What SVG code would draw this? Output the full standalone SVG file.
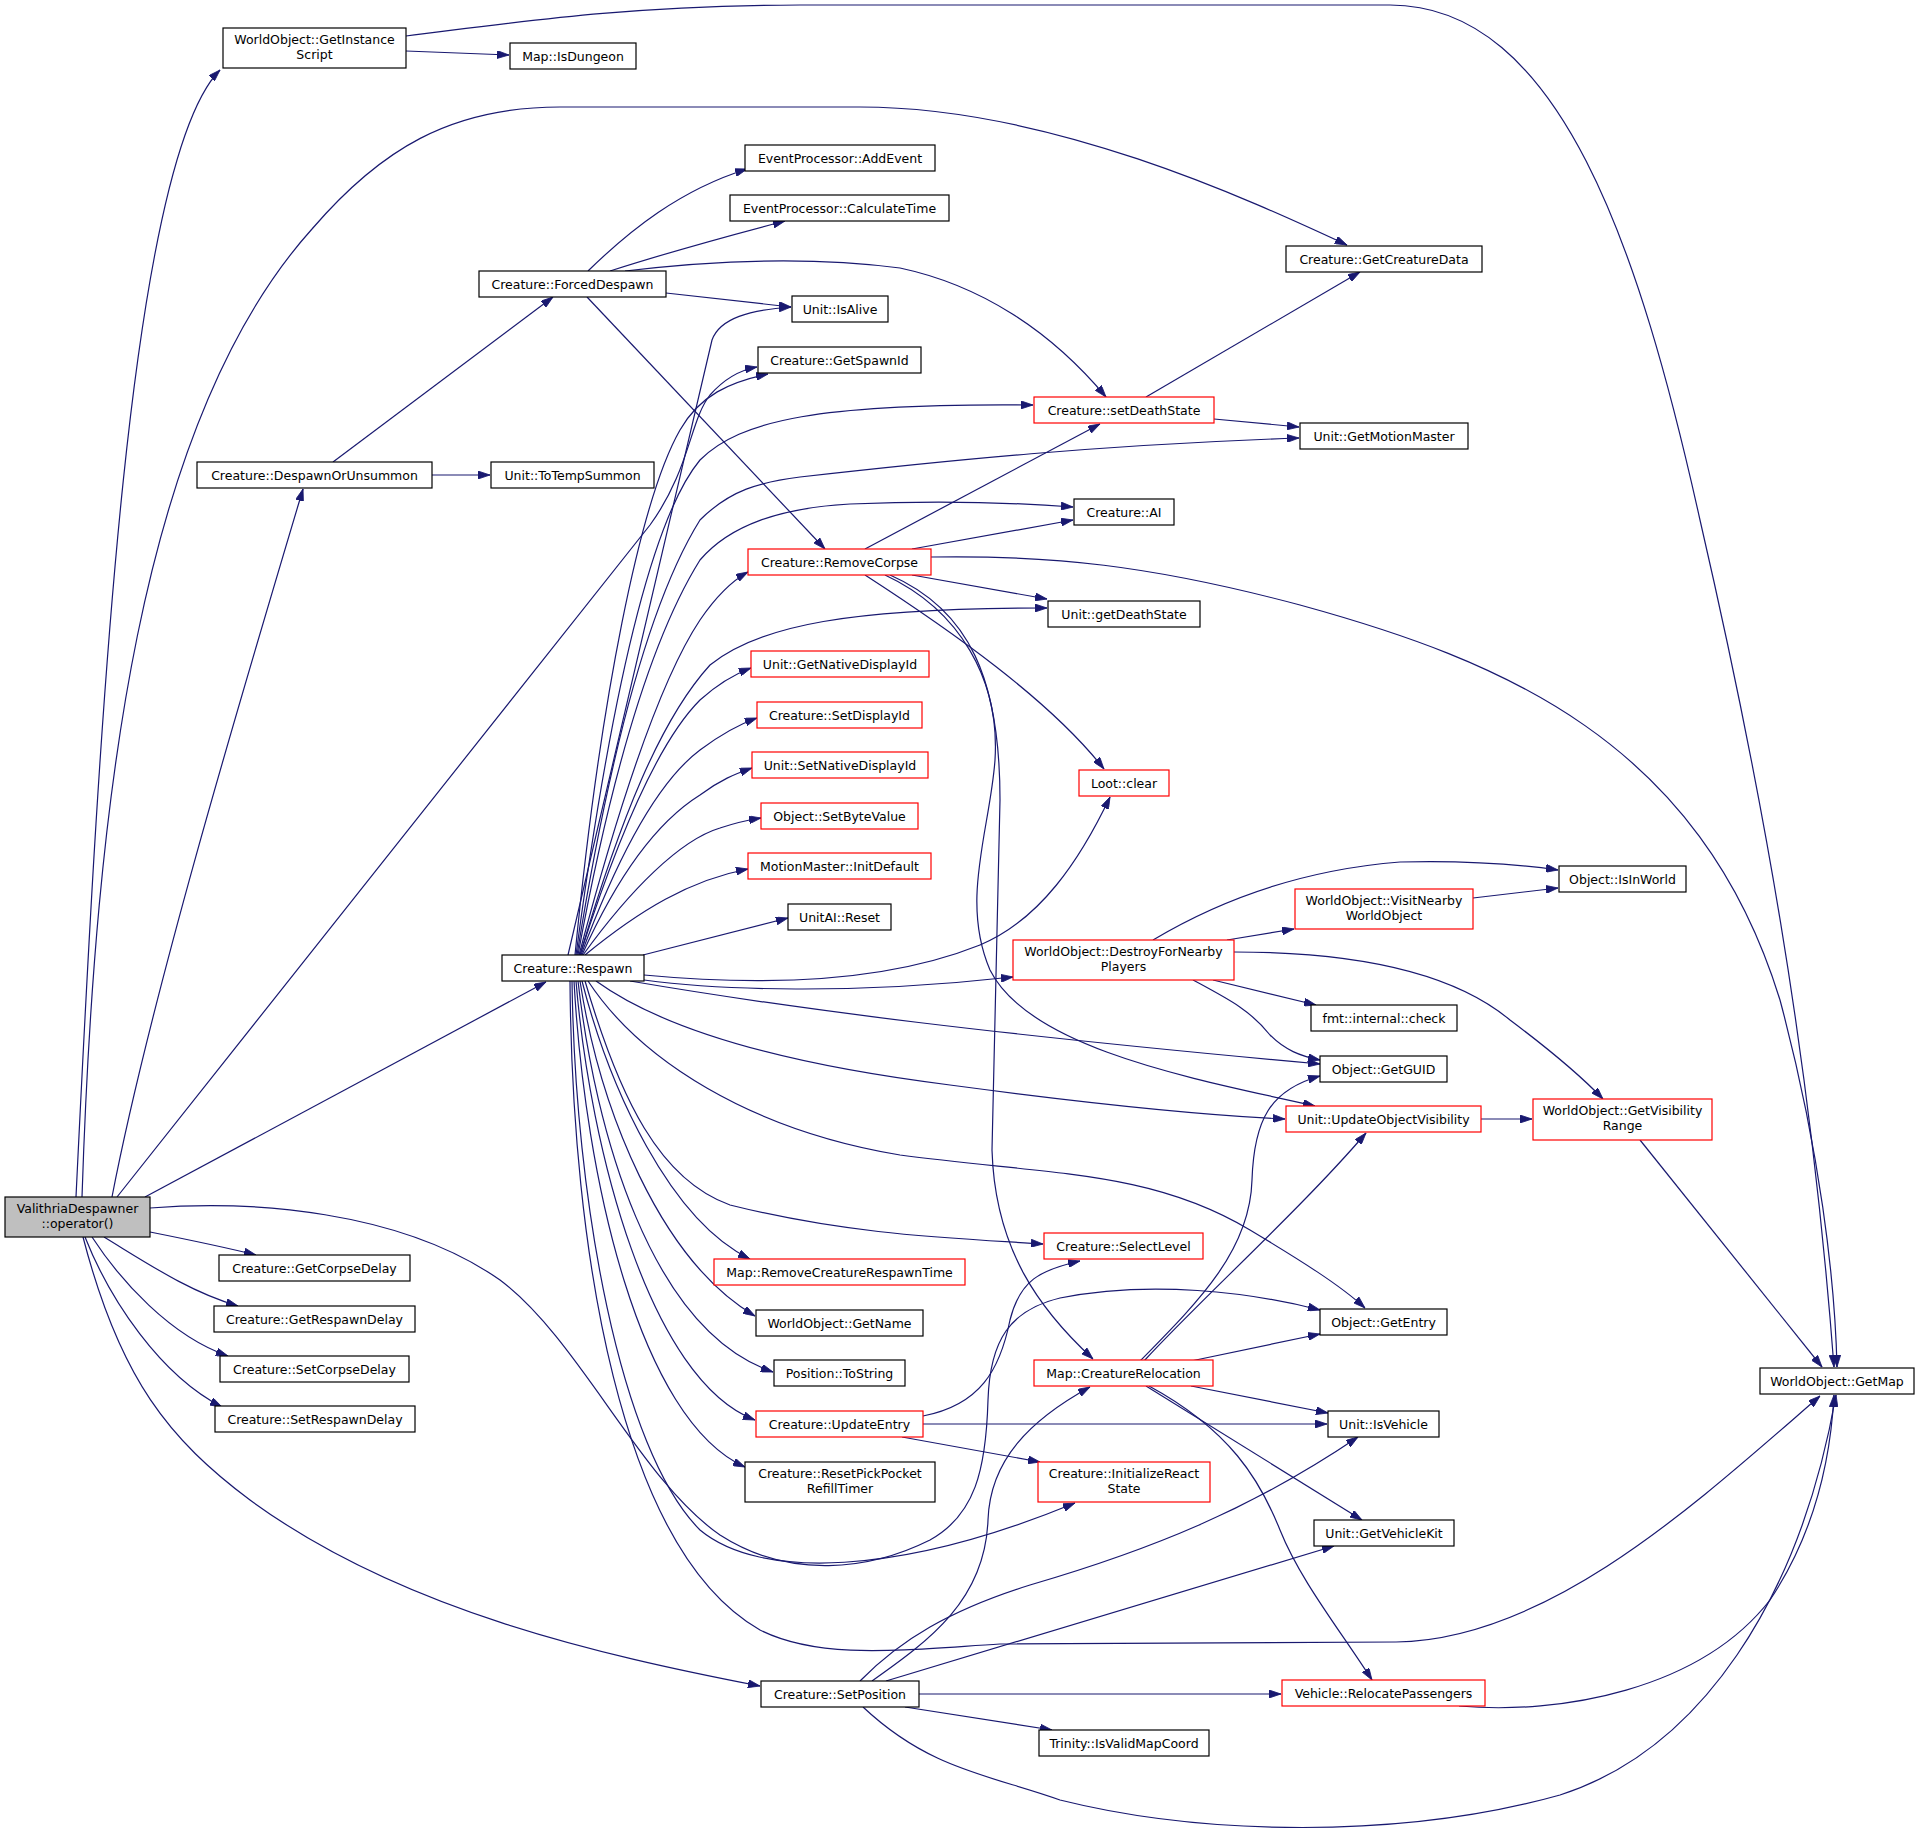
<svg xmlns="http://www.w3.org/2000/svg" width="1920" height="1844" viewBox="0 0 1920 1844">
<style>
.n rect{fill:#fff;stroke:#000;stroke-width:1.2}
.r rect{stroke:#ff0000}
.root rect{fill:#bfbfbf}
text{font-family:"DejaVu Sans","Liberation Sans",sans-serif;font-size:12.5px;text-anchor:middle;fill:#000}
.e{fill:none;stroke:#191970;stroke-width:1.2;marker-end:url(#a)}
</style>
<defs>
<marker id="a" viewBox="0 0 12 8" refX="12" refY="4" markerWidth="12" markerHeight="8" markerUnits="userSpaceOnUse" orient="auto">
<path d="M0,0 L12,4 L0,8 z" fill="#191970" stroke="#191970" stroke-width="0.8"/>
</marker>
</defs>
<rect width="1920" height="1844" fill="#fff"/>
<g id="edges">
<path class="e" d="M 76,1197 C 100,700 130,160 220,70"/>
<path class="e" d="M 82,1197 C 95,800 140,420 312,229 C 380,150 450,107 560,107 L 860,107 C 1050,107 1250,200 1347,245"/>
<path class="e" d="M 112,1197 C 150,1000 240,700 303,489"/>
<path class="e" d="M 117,1197 L 650,525 C 690,470 690,420 710,395 C 725,378 740,370 757,367"/>
<path class="e" d="M 145,1197 L 546,982"/>
<path class="e" d="M 150,1232 C 180,1238 220,1246 256,1255"/>
<path class="e" d="M 104,1237 C 150,1265 190,1292 238,1306"/>
<path class="e" d="M 92,1237 C 120,1280 170,1336 228,1356"/>
<path class="e" d="M 85,1237 C 110,1300 160,1375 222,1407"/>
<path class="e" d="M 83,1237 C 120,1380 170,1440 250,1500 C 400,1610 600,1655 760,1686"/>
<path class="e" d="M 150,1208 C 250,1200 400,1210 500,1280 C 580,1340 640,1480 720,1535 C 790,1580 870,1570 930,1540 C 975,1515 986,1470 988,1400 C 990,1340 1010,1310 1060,1298 C 1150,1280 1250,1292 1320,1310"/>
<path class="e" d="M 406,51 L 509,55"/>
<path class="e" d="M 406,36 C 520,22 620,6 800,5 L 1390,5 C 1560,5 1640,250 1700,520 C 1760,780 1810,1050 1834,1367"/>
<path class="e" d="M 588,271 C 630,230 680,190 747,169"/>
<path class="e" d="M 610,271 C 660,255 720,238 785,221"/>
<path class="e" d="M 625,271 C 700,262 800,255 900,268 C 980,285 1050,330 1106,397"/>
<path class="e" d="M 666,293 L 791,307"/>
<path class="e" d="M 587,297 L 825,549"/>
<path class="e" d="M 333,462 L 553,297"/>
<path class="e" d="M 432,475 L 490,475"/>
<path class="e" d="M 568,955 L 712,340 C 720,318 750,310 791,307"/>
<path class="e" d="M 575,955 C 600,700 640,500 680,430 C 700,395 730,382 768,374"/>
<path class="e" d="M 576,955 C 610,700 650,520 700,460 C 740,420 820,403 1033,405"/>
<path class="e" d="M 577,955 C 610,750 650,600 700,520 C 730,490 760,482 800,477 C 950,460 1100,445 1299,438"/>
<path class="e" d="M 578,955 C 610,780 650,640 700,560 C 730,525 780,508 850,504 C 950,500 1020,503 1073,507"/>
<path class="e" d="M 579,955 C 620,800 660,680 700,620 C 715,598 730,582 748,572"/>
<path class="e" d="M 580,955 C 620,820 660,720 710,665 C 760,625 850,608 1047,608"/>
<path class="e" d="M 580,955 C 620,830 660,740 700,700 C 720,682 735,674 751,668"/>
<path class="e" d="M 581,955 C 620,850 660,780 700,750 C 720,735 740,724 757,718"/>
<path class="e" d="M 582,955 C 620,870 660,820 700,795 C 720,780 735,774 752,768"/>
<path class="e" d="M 583,955 C 630,890 680,840 720,828 C 735,823 748,820 761,818"/>
<path class="e" d="M 585,955 C 640,910 690,880 748,869"/>
<path class="e" d="M 643,955 L 788,918"/>
<path class="e" d="M 644,975 C 750,985 880,985 980,945 C 1040,920 1080,860 1110,797"/>
<path class="e" d="M 644,980 C 720,990 850,995 1013,977"/>
<path class="e" d="M 630,981 C 800,1010 1000,1035 1320,1064"/>
<path class="e" d="M 596,981 C 650,1020 750,1060 950,1085 C 1100,1105 1200,1115 1285,1119"/>
<path class="e" d="M 588,981 C 640,1060 750,1130 900,1155 C 1050,1175 1150,1170 1250,1230 C 1300,1260 1340,1285 1365,1308"/>
<path class="e" d="M 585,981 C 620,1100 660,1180 730,1205 C 850,1235 950,1238 1043,1244"/>
<path class="e" d="M 582,981 C 610,1090 670,1220 750,1259"/>
<path class="e" d="M 580,981 C 600,1110 660,1260 755,1316"/>
<path class="e" d="M 578,981 C 595,1130 650,1330 773,1372"/>
<path class="e" d="M 576,981 C 590,1150 650,1380 755,1420"/>
<path class="e" d="M 574,981 C 585,1180 640,1420 745,1467"/>
<path class="e" d="M 572,981 C 575,1200 620,1450 700,1530 C 760,1580 900,1575 1075,1503"/>
<path class="e" d="M 570,981 C 572,1250 620,1550 760,1630 C 820,1660 900,1650 1000,1644 L 1396,1642 C 1550,1640 1700,1500 1820,1396"/>
<path class="e" d="M 865,549 L 1100,424"/>
<path class="e" d="M 912,549 L 1073,520"/>
<path class="e" d="M 931,557 C 1050,555 1150,565 1300,605 C 1500,660 1700,740 1780,1000 C 1820,1150 1835,1280 1837,1367"/>
<path class="e" d="M 912,575 L 1047,599"/>
<path class="e" d="M 865,575 C 950,630 1050,700 1104,769"/>
<path class="e" d="M 885,575 C 960,610 1000,680 995,760 C 990,830 960,900 990,970 C 1030,1050 1200,1080 1315,1106"/>
<path class="e" d="M 890,575 C 970,610 1000,680 1000,800 L 992,1150 C 995,1250 1040,1310 1093,1359"/>
<path class="e" d="M 1146,397 L 1360,272"/>
<path class="e" d="M 1214,419 L 1299,427"/>
<path class="e" d="M 1153,940 C 1220,900 1300,870 1400,862 C 1480,860 1530,866 1558,870"/>
<path class="e" d="M 1227,940 L 1294,929"/>
<path class="e" d="M 1234,952 C 1350,952 1450,970 1510,1020 C 1550,1050 1580,1075 1603,1099"/>
<path class="e" d="M 1213,980 L 1316,1005"/>
<path class="e" d="M 1193,980 C 1230,1000 1250,1010 1270,1035 C 1285,1050 1300,1056 1320,1060"/>
<path class="e" d="M 1473,898 L 1558,888"/>
<path class="e" d="M 1481,1119 L 1532,1119"/>
<path class="e" d="M 1640,1140 L 1822,1367"/>
<path class="e" d="M 923,1416 C 980,1405 1000,1370 1010,1320 C 1020,1280 1040,1270 1080,1261"/>
<path class="e" d="M 923,1424 L 1327,1424"/>
<path class="e" d="M 902,1437 L 1040,1462"/>
<path class="e" d="M 1191,1361 L 1320,1334"/>
<path class="e" d="M 1140,1361 C 1200,1300 1250,1250 1252,1180 C 1254,1120 1270,1090 1320,1076"/>
<path class="e" d="M 1144,1361 C 1200,1300 1300,1210 1366,1133"/>
<path class="e" d="M 1191,1386 L 1328,1413"/>
<path class="e" d="M 1146,1386 L 1362,1520"/>
<path class="e" d="M 1149,1386 C 1230,1430 1260,1480 1280,1530 C 1300,1580 1340,1630 1372,1680"/>
<path class="e" d="M 872,1681 C 930,1640 985,1600 988,1520 C 990,1460 1030,1420 1090,1387"/>
<path class="e" d="M 860,1681 C 900,1640 950,1610 1030,1585 C 1150,1550 1250,1510 1358,1437"/>
<path class="e" d="M 886,1681 L 1334,1546"/>
<path class="e" d="M 919,1694 L 1281,1694"/>
<path class="e" d="M 905,1707 L 1052,1730"/>
<path class="e" d="M 863,1707 C 930,1770 990,1775 1060,1800 C 1200,1835 1400,1840 1560,1795 C 1700,1750 1800,1600 1836,1395"/>
<path class="e" d="M 1459,1706 C 1560,1715 1700,1690 1770,1600 C 1810,1540 1830,1470 1834,1395"/>
</g>
<g id="n0" class="n root"><rect x="5" y="1197" width="145" height="40"/><text x="77.5" y="1213">ValithriaDespawner</text><text x="77.5" y="1228">::operator()</text></g>
<g id="n1" class="n"><rect x="223" y="28" width="183" height="40"/><text x="314.5" y="44">WorldObject::GetInstance</text><text x="314.5" y="59">Script</text></g>
<g id="n2" class="n"><rect x="510" y="43" width="126" height="26"/><text x="573" y="60.5">Map::IsDungeon</text></g>
<g id="n3" class="n"><rect x="479" y="271" width="187" height="26"/><text x="572.5" y="288.5">Creature::ForcedDespawn</text></g>
<g id="n4" class="n"><rect x="197" y="462" width="235" height="26"/><text x="314.5" y="479.5">Creature::DespawnOrUnsummon</text></g>
<g id="n5" class="n"><rect x="491" y="462" width="163" height="26"/><text x="572.5" y="479.5">Unit::ToTempSummon</text></g>
<g id="n6" class="n"><rect x="745" y="145" width="190" height="26"/><text x="840" y="162.5">EventProcessor::AddEvent</text></g>
<g id="n7" class="n"><rect x="730" y="195" width="219" height="26"/><text x="839.5" y="212.5">EventProcessor::CalculateTime</text></g>
<g id="n8" class="n"><rect x="1286" y="246" width="196" height="26"/><text x="1384" y="263.5">Creature::GetCreatureData</text></g>
<g id="n9" class="n"><rect x="792" y="296" width="96" height="26"/><text x="840" y="313.5">Unit::IsAlive</text></g>
<g id="n10" class="n"><rect x="758" y="347" width="163" height="26"/><text x="839.5" y="364.5">Creature::GetSpawnId</text></g>
<g id="n11" class="n r"><rect x="1034" y="397" width="180" height="26"/><text x="1124" y="414.5">Creature::setDeathState</text></g>
<g id="n12" class="n"><rect x="1300" y="423" width="168" height="26"/><text x="1384" y="440.5">Unit::GetMotionMaster</text></g>
<g id="n13" class="n"><rect x="1074" y="499" width="100" height="26"/><text x="1124" y="516.5">Creature::AI</text></g>
<g id="n14" class="n r"><rect x="748" y="549" width="183" height="26"/><text x="839.5" y="566.5">Creature::RemoveCorpse</text></g>
<g id="n15" class="n"><rect x="1048" y="601" width="152" height="26"/><text x="1124" y="618.5">Unit::getDeathState</text></g>
<g id="n16" class="n r"><rect x="751" y="651" width="178" height="26"/><text x="840" y="668.5">Unit::GetNativeDisplayId</text></g>
<g id="n17" class="n r"><rect x="757" y="702" width="165" height="26"/><text x="839.5" y="719.5">Creature::SetDisplayId</text></g>
<g id="n18" class="n r"><rect x="752" y="752" width="176" height="26"/><text x="840" y="769.5">Unit::SetNativeDisplayId</text></g>
<g id="n19" class="n r"><rect x="761" y="803" width="157" height="26"/><text x="839.5" y="820.5">Object::SetByteValue</text></g>
<g id="n20" class="n r"><rect x="748" y="853" width="183" height="26"/><text x="839.5" y="870.5">MotionMaster::InitDefault</text></g>
<g id="n21" class="n"><rect x="788" y="904" width="103" height="26"/><text x="839.5" y="921.5">UnitAI::Reset</text></g>
<g id="n22" class="n r"><rect x="1079" y="770" width="90" height="26"/><text x="1124" y="787.5">Loot::clear</text></g>
<g id="n23" class="n"><rect x="502" y="955" width="142" height="26"/><text x="573" y="972.5">Creature::Respawn</text></g>
<g id="n24" class="n r"><rect x="1013" y="940" width="221" height="40"/><text x="1123.5" y="956">WorldObject::DestroyForNearby</text><text x="1123.5" y="971">Players</text></g>
<g id="n25" class="n r"><rect x="1295" y="889" width="178" height="40"/><text x="1384" y="905">WorldObject::VisitNearby</text><text x="1384" y="920">WorldObject</text></g>
<g id="n26" class="n"><rect x="1559" y="866" width="127" height="26"/><text x="1622.5" y="883.5">Object::IsInWorld</text></g>
<g id="n27" class="n"><rect x="1311" y="1005" width="146" height="26"/><text x="1384" y="1022.5">fmt::internal::check</text></g>
<g id="n28" class="n"><rect x="1320" y="1056" width="127" height="26"/><text x="1383.5" y="1073.5">Object::GetGUID</text></g>
<g id="n29" class="n r"><rect x="1286" y="1106" width="195" height="26"/><text x="1383.5" y="1123.5">Unit::UpdateObjectVisibility</text></g>
<g id="n30" class="n r"><rect x="1533" y="1099" width="179" height="41"/><text x="1622.5" y="1115">WorldObject::GetVisibility</text><text x="1622.5" y="1130">Range</text></g>
<g id="n31" class="n r"><rect x="1044" y="1233" width="159" height="26"/><text x="1123.5" y="1250.5">Creature::SelectLevel</text></g>
<g id="n32" class="n r"><rect x="714" y="1259" width="251" height="26"/><text x="839.5" y="1276.5">Map::RemoveCreatureRespawnTime</text></g>
<g id="n33" class="n"><rect x="756" y="1310" width="167" height="26"/><text x="839.5" y="1327.5">WorldObject::GetName</text></g>
<g id="n34" class="n"><rect x="1320" y="1309" width="127" height="26"/><text x="1383.5" y="1326.5">Object::GetEntry</text></g>
<g id="n35" class="n"><rect x="774" y="1360" width="131" height="26"/><text x="839.5" y="1377.5">Position::ToString</text></g>
<g id="n36" class="n r"><rect x="1034" y="1360" width="179" height="26"/><text x="1123.5" y="1377.5">Map::CreatureRelocation</text></g>
<g id="n37" class="n"><rect x="1760" y="1368" width="154" height="26"/><text x="1837" y="1385.5">WorldObject::GetMap</text></g>
<g id="n38" class="n r"><rect x="756" y="1411" width="167" height="26"/><text x="839.5" y="1428.5">Creature::UpdateEntry</text></g>
<g id="n39" class="n"><rect x="1328" y="1411" width="111" height="26"/><text x="1383.5" y="1428.5">Unit::IsVehicle</text></g>
<g id="n40" class="n"><rect x="745" y="1462" width="190" height="40"/><text x="840" y="1478">Creature::ResetPickPocket</text><text x="840" y="1493">RefillTimer</text></g>
<g id="n41" class="n r"><rect x="1038" y="1462" width="172" height="40"/><text x="1124" y="1478">Creature::InitializeReact</text><text x="1124" y="1493">State</text></g>
<g id="n42" class="n"><rect x="1314" y="1520" width="140" height="26"/><text x="1384" y="1537.5">Unit::GetVehicleKit</text></g>
<g id="n43" class="n"><rect x="761" y="1681" width="158" height="26"/><text x="840" y="1698.5">Creature::SetPosition</text></g>
<g id="n44" class="n r"><rect x="1282" y="1680" width="203" height="26"/><text x="1383.5" y="1697.5">Vehicle::RelocatePassengers</text></g>
<g id="n45" class="n"><rect x="1039" y="1730" width="170" height="26"/><text x="1124" y="1747.5">Trinity::IsValidMapCoord</text></g>
<g id="n46" class="n"><rect x="219" y="1255" width="191" height="26"/><text x="314.5" y="1272.5">Creature::GetCorpseDelay</text></g>
<g id="n47" class="n"><rect x="214" y="1306" width="201" height="26"/><text x="314.5" y="1323.5">Creature::GetRespawnDelay</text></g>
<g id="n48" class="n"><rect x="220" y="1356" width="189" height="26"/><text x="314.5" y="1373.5">Creature::SetCorpseDelay</text></g>
<g id="n49" class="n"><rect x="215" y="1406" width="200" height="26"/><text x="315" y="1423.5">Creature::SetRespawnDelay</text></g>
</svg>
